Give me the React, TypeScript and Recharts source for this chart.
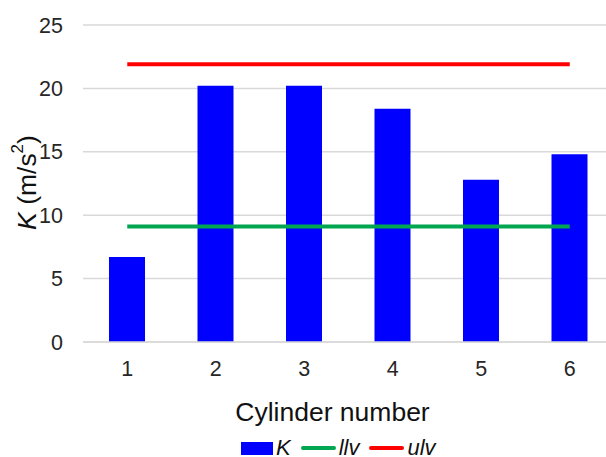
import { ComposedChart, Bar, Line, XAxis, YAxis, CartesianGrid, Label } from 'recharts';

const cylinders = ['1', '2', '3', '4', '5', '6'];
const kValues = [6.7, 20.2, 20.2, 18.4, 12.8, 14.8];
const llvValues = [9.1, 9.1, 9.1, 9.1, 9.1, 9.1];
const ulvValues = [21.9, 21.9, 21.9, 21.9, 21.9, 21.9];
const yTicks = [0, 5, 10, 15, 20, 25];

const data = cylinders.map((c, i) => ({
  cylinder: c,
  K: kValues[i],
  llv: llvValues[i],
  ulv: ulvValues[i],
}));

const FONT = '"Liberation Sans", Arial, sans-serif';

function YTitle(props: any) {
  const { viewBox } = props;
  const cx = 27;
  const cy = viewBox.y + viewBox.height / 2 - 1;
  return (
    <text
      x={cx}
      y={cy}
      transform={`rotate(-90, ${cx}, ${cy})`}
      textAnchor="middle"
      dominantBaseline="central"
      fontFamily={FONT}
      fontSize={26.5}
      fill="#111"
    >
      <tspan fontStyle="italic">K</tspan>
      <tspan> (m/s</tspan>
      <tspan fontSize={17} dy={-10}>2</tspan>
      <tspan dy={10}>)</tspan>
    </text>
  );
}

function XTitle(props: any) {
  const { viewBox } = props;
  const cx = viewBox.x + viewBox.width / 2 - 16;
  return (
    <text x={cx} y={421} textAnchor="middle" fontFamily={FONT} fontSize={26.5} fill="#111">
      Cylinder number
    </text>
  );
}

function LegendBox() {
  const item = { display: 'flex', alignItems: 'center', marginRight: 10 } as const;
  const label = { fontStyle: 'italic', fontSize: 22, color: '#111', marginLeft: 3 } as const;
  return (
    <div style={{ position: 'absolute', left: 241, top: 438, display: 'flex', fontFamily: FONT, lineHeight: '20px' }}>
      <div style={item}>
        <span style={{ display: 'inline-block', width: 32, height: 13, background: '#0000ff' }} />
        <span style={label}>K</span>
      </div>
      <div style={item}>
        <span style={{ display: 'inline-block', width: 35, height: 4, background: '#00a650', borderRadius: 2 }} />
        <span style={label}>llv</span>
      </div>
      <div style={item}>
        <span style={{ display: 'inline-block', width: 35, height: 4, background: '#ff0000', borderRadius: 2 }} />
        <span style={label}>ulv</span>
      </div>
    </div>
  );
}

export default function App() {
  return (
    <div style={{ position: 'absolute', left: 0, top: 0, width: 606, height: 457, overflow: 'hidden', background: '#fff' }}>
      <ComposedChart
        width={620}
        height={457}
        data={data}
        margin={{ top: 25, right: 6, left: 0, bottom: 0 }}
        style={{ fontFamily: FONT }}
      >
        <CartesianGrid vertical={false} stroke="#d9d9d9" strokeWidth={1.5} />
        <XAxis
          dataKey="cylinder"
          axisLine={{ stroke: '#d9d9d9', strokeWidth: 1.5 }}
          tickLine={false}
          tickSize={0}
          tickMargin={19}
          tick={{ fill: '#262626', fontSize: 21.5 }}
          height={115}
        >
          <Label content={<XTitle />} />
        </XAxis>
        <YAxis
          domain={[0, 25]}
          ticks={yTicks}
          axisLine={false}
          tickLine={false}
          tickSize={0}
          tickMargin={20}
          tick={{ fill: '#262626', fontSize: 21.5 }}
          width={83}
        >
          <Label content={<YTitle />} />
        </YAxis>
        <Bar dataKey="K" fill="#0000ff" barSize={36} isAnimationActive={false} />
        <Line type="linear" dataKey="llv" stroke="#00a650" strokeWidth={4} dot={false} isAnimationActive={false} />
        <Line type="linear" dataKey="ulv" stroke="#ff0000" strokeWidth={4} dot={false} isAnimationActive={false} />
      </ComposedChart>
      <LegendBox />
    </div>
  );
}
